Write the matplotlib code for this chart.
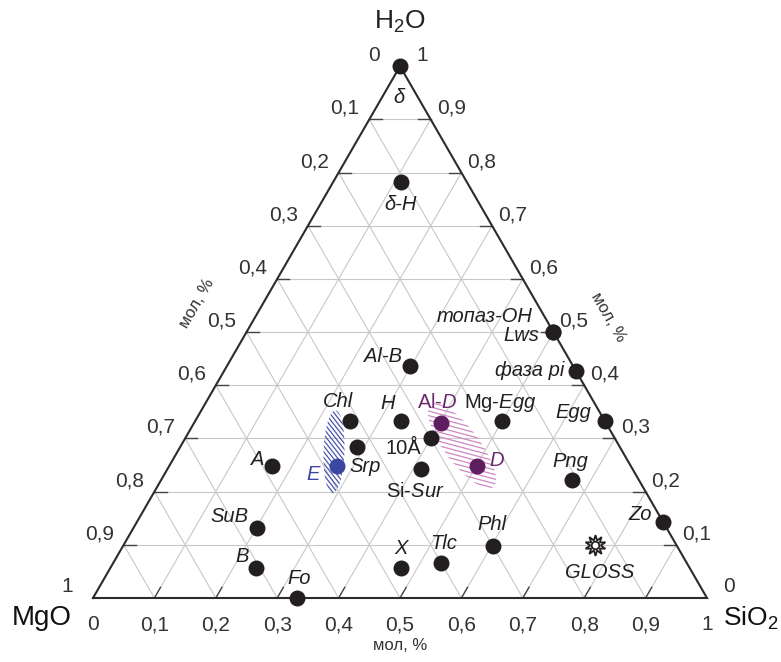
import numpy as np
import matplotlib.pyplot as plt
from matplotlib.patches import Ellipse
from matplotlib.collections import LineCollection

plt.rcParams['font.family'] = ['Liberation Sans', 'DejaVu Sans']
plt.rcParams['mathtext.fontset'] = 'custom'
plt.rcParams['mathtext.rm'] = 'Liberation Sans'
plt.rcParams['mathtext.it'] = 'Liberation Sans:italic'

# phases: SiO2 and H2O mole fractions (MgO = 1 - SiO2 - H2O)
names = ["$\\delta$", "δ-H", "топаз-OH", "Lws", "фаза pi", "Al-B", "Chl", "H",
         "Al-$\\mathit{D}$", "Mg-$\\mathit{Egg}$", "Egg", "10Å", "Srp", "E", "A",
         "Si-$\\mathit{Sur}$", "D", "Png", "Zo", "SuB", "Phl", "B", "X", "Tlc", "Fo"]
sio2 = [0.0, 0.110, 0.5, 0.5, 0.573, 0.298, 0.252, 0.335, 0.403, 0.5, 0.667, 0.400,
        0.288, 0.273, 0.167, 0.413, 0.501, 0.669, 0.858, 0.201, 0.602, 0.238, 0.473,
        0.534, 0.333]
h2o = [1.0, 0.783, 0.5, 0.5, 0.427, 0.436, 0.333, 0.333, 0.329, 0.333, 0.333, 0.301,
       0.284, 0.248, 0.248, 0.243, 0.248, 0.222, 0.142, 0.131, 0.098, 0.056, 0.056,
       0.065, 0.0]
kind = ["k"] * 8 + ["p", "k", "k", "k", "k", "b", "k", "k", "p"] + ["k"] * 8

gloss_sio2, gloss_h2o = 0.768, 0.100

# hatched fields: centre (SiO2, H2O)
field_E = (0.255, 0.275)
field_D = (0.458, 0.286)

ticks = np.round(np.linspace(0, 1, 11), 1)

# label placement (pixels) and styles
offs = {"$\\delta$": (0, -31), "δ-H": (0, -23), "топаз-OH": (-21, 16), "Lws": (-14, -3),
        "фаза pi": (-12, 0), "Al-B": (-27, 10), "Chl": (-12, 19), "H": (-13, 17),
        "Al-$\\mathit{D}$": (-4, 21), "Mg-$\\mathit{Egg}$": (-2, 18), "Egg": (-31, 8),
        "10Å": (-28, -11), "Srp": (8, -20), "E": (-24, -8), "A": (-14, 7),
        "Si-$\\mathit{Sur}$": (-6, -23), "D": (20, 6), "Png": (-2, 18), "Zo": (-23, 8),
        "SuB": (-27, 12), "Phl": (-1, 21), "B": (-14, 12), "X": (0, 20), "Tlc": (3, 20),
        "Fo": (2, 19)}
right_al = ["топаз-OH", "Lws", "фаза pi"]
upright = ["Al-$\\mathit{D}$", "Mg-$\\mathit{Egg}$", "10Å", "Si-$\\mathit{Sur}$"]
dotc = {"k": "#231f20", "p": "#5e1d5e", "b": "#3a46a2"}
txtc = {"k": "#231f20", "p": "#6b2a6b", "b": "#3a46a2"}

s3 = np.sqrt(3) / 2


def tern(si, w):
    si = np.asarray(si, dtype=float)
    w = np.asarray(w, dtype=float)
    return si + w / 2, w * s3


fig = plt.figure(figsize=(7.81, 6.62), dpi=100)
ax = fig.add_axes([0, 0, 1, 1])
ax.set_xlim(-93 / 614, 688 / 614)
ax.set_ylim(-64 / 614, 598 / 614)
ax.axis("off")

# grid
gc = "#c8c8c8"
for v in ticks[1:-1]:
    x0, y0 = tern(0, v); x1, y1 = tern(1 - v, v)          # const H2O
    ax.plot([x0, x1], [y0, y1], color=gc, lw=0.8, zorder=1)
    x0, y0 = tern(v, 0); x1, y1 = tern(v, 1 - v)          # const SiO2
    ax.plot([x0, x1], [y0, y1], color=gc, lw=0.8, zorder=1)
    x0, y0 = tern(1 - v, 0); x1, y1 = tern(0, 1 - v)      # const MgO
    ax.plot([x0, x1], [y0, y1], color=gc, lw=0.8, zorder=1)
    # short dark ticks at edges
    tl = 0.02
    x0, y0 = tern(0, v)
    ax.plot([x0, x0 + tl], [y0, y0], color="#444", lw=1.0, zorder=2)
    x0, y0 = tern(1 - v, v)
    ax.plot([x0, x0 - tl], [y0, y0], color="#444", lw=1.0, zorder=2)
    x0, y0 = tern(v, 0)
    ax.plot([x0, x0 + tl / 2], [y0, y0 + tl * s3], color="#444", lw=1.0, zorder=2)

# triangle
tx, ty = tern([0, 1, 0, 0], [0, 0, 1, 0])
ax.plot(tx, ty, color="#2b2b2b", lw=1.5, zorder=3, solid_joinstyle="miter")


# hatched fields
def hatch_field(c, w, h, ang, hang, sp, col):
    cx, cy = tern(*c)
    ell = Ellipse((cx, cy), w, h, angle=ang, fill=False, lw=0, transform=ax.transData)
    ax.add_patch(ell)
    d = np.array([np.cos(np.radians(hang)), np.sin(np.radians(hang))])
    n = np.array([-d[1], d[0]])
    L = max(w, h)
    segs = []
    for t in np.arange(-L, L, sp):
        p = np.array([cx, cy]) + t * n
        segs.append([p - L * d, p + L * d])
    lc = LineCollection(segs, colors=col, linewidths=0.9, zorder=4)
    ax.add_collection(lc)
    lc.set_clip_path(ell)


hatch_field(field_E, 0.034, 0.135, -2, -52, 0.0058, "#4b55ad")
hatch_field(field_D, 0.057, 0.168, 37, -15, 0.0072, "#cf86c6")

# points
px, py = tern(sio2, h2o)
for i, nm in enumerate(names):
    ax.plot(px[i], py[i], "o", ms=11.5, color=dotc[kind[i]], mec="none", zorder=6)
    style = "normal" if nm in upright else "italic"
    ha = "right" if nm in right_al else "center"
    ax.annotate(nm, (px[i], py[i]), xytext=offs[nm], textcoords="offset pixels",
                ha=ha, va="center", fontsize=14.5, style=style, color=txtc[kind[i]],
                zorder=7)

gx, gy = tern(gloss_sio2, gloss_h2o)
ax.plot(gx, gy, marker=(10, 1, 0), ms=15, mfc="white", mec="#231f20", mew=1.3, zorder=6)
ax.plot(gx, gy, "o", ms=5.5, mfc="white", mec="#231f20", mew=1.3, zorder=7)
ax.annotate("GLOSS", (gx, gy), xytext=(4, -28), textcoords="offset pixels",
            ha="center", va="center", fontsize=14.5, style="italic", color="#231f20")


# tick labels
def lab(v):
    return "0" if v == 0 else ("1" if v == 1 else ("%.1f" % v).replace(".", ","))


tfs = 15
tcol = "#333333"
for v in ticks:
    end = v in (0, 1)
    x, y = tern(v, 0)
    ax.annotate(lab(v), (x, y), xytext=(0, -27), textcoords="offset pixels",
                ha="center", va="center", fontsize=tfs, color=tcol)
    x, y = tern(0, 1 - v)
    ax.annotate(lab(v), (x, y), xytext=(-20 if end else -10, 11), textcoords="offset pixels",
                ha="right", va="center", fontsize=tfs, color=tcol)
    x, y = tern(1 - v, v)
    ax.annotate(lab(v), (x, y), xytext=(16 if end else 6, 11), textcoords="offset pixels",
                ha="left", va="center", fontsize=tfs, color=tcol)

# vertex names
x, y = tern(0, 1)
ax.annotate("H$_2$O", (x, y), xytext=(0, 44), textcoords="offset pixels",
            ha="center", va="center", fontsize=19, color="#222")
x, y = tern(0, 0)
ax.annotate("MgO", (x, y), xytext=(-51, -20), textcoords="offset pixels",
            ha="center", va="center", fontsize=20, color="#111")
x, y = tern(1, 0)
ax.annotate("SiO$_2$", (x, y), xytext=(16, -20), textcoords="offset pixels",
            ha="left", va="center", fontsize=19, color="#111")

# axis titles
x, y = tern(0.5, 0)
ax.annotate("мол, %", (x, y), xytext=(0, -47), textcoords="offset pixels",
            ha="center", va="center", fontsize=12, color="#333")
x, y = tern(0, 0.5)
ax.annotate("мол, %", (x, y), xytext=(-50, 29), textcoords="offset pixels",
            ha="center", va="center", fontsize=12, color="#333", rotation=60)
x, y = tern(0.5, 0.5)
ax.annotate("мол, %", (x, y), xytext=(55, 15), textcoords="offset pixels",
            ha="center", va="center", fontsize=12, color="#333", rotation=-60)

plt.savefig("out.png", dpi=100)
